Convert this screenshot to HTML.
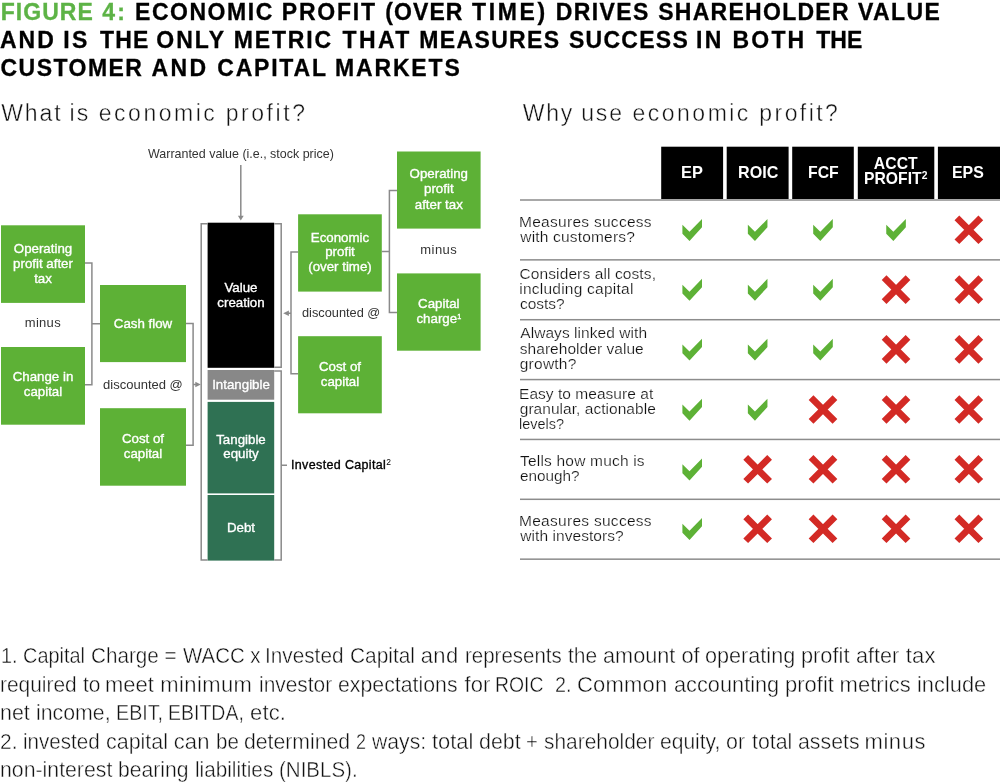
<!DOCTYPE html>
<html><head><meta charset="utf-8"><title>Figure 4</title>
<style>
html,body{margin:0;padding:0;background:#fff}
body{width:1000px;height:784px;position:relative;overflow:hidden;font-family:"Liberation Sans",sans-serif}
.t{position:absolute;white-space:pre;transform-origin:0 0;line-height:1;margin:0;padding:0}
.b{position:absolute}
svg{position:absolute;left:0;top:0}
#txt{position:absolute;left:0;top:0;width:1000px;height:784px;will-change:transform}
</style></head><body>
<svg width="1000" height="784" viewBox="0 0 1000 784">
<rect x="1.00" y="225.30" width="84.00" height="77.60" fill="#5db136"/>
<rect x="1.00" y="347.00" width="84.00" height="77.70" fill="#5db136"/>
<rect x="100.00" y="285.00" width="86.00" height="77.10" fill="#5db136"/>
<rect x="100.00" y="408.20" width="86.00" height="77.50" fill="#5db136"/>
<rect x="298.10" y="214.30" width="83.70" height="77.30" fill="#5db136"/>
<rect x="298.10" y="336.20" width="83.70" height="77.10" fill="#5db136"/>
<rect x="397.00" y="151.50" width="83.60" height="77.10" fill="#5db136"/>
<rect x="397.00" y="273.40" width="83.60" height="77.30" fill="#5db136"/>
<rect x="207.60" y="222.70" width="66.60" height="145.10" fill="#000"/>
<rect x="207.60" y="370.00" width="66.60" height="29.70" fill="#888888"/>
<rect x="207.60" y="401.90" width="66.60" height="91.50" fill="#2f7153"/>
<rect x="207.60" y="495.00" width="66.60" height="65.60" fill="#2f7153"/>
<path d="M85 263H91.9V384.8H85M91.9 323.8H100" fill="none" stroke="#8a8a8a" stroke-width="1.5"/>
<path d="M186 323.5H193.1V445.3H186M193.1 384.5H197" fill="none" stroke="#8a8a8a" stroke-width="1.5"/>
<path d="M298.1 252H291V373.8H298.1M291 313.2H287" fill="none" stroke="#8a8a8a" stroke-width="1.5"/>
<path d="M381.8 251.5H389.4M397 190.4H389.4V312.4H397" fill="none" stroke="#8a8a8a" stroke-width="1.5"/>
<path d="M240.8 165V217" fill="none" stroke="#8a8a8a" stroke-width="1.5"/>
<path d="M207.6 223.8H201.2V559.9H207.6" fill="none" stroke="#8a8a8a" stroke-width="1.5"/>
<path d="M274.2 223.8H281.2V367.2H274.2" fill="none" stroke="#8a8a8a" stroke-width="1.5"/>
<path d="M274.2 370.9H281.2V559.9H274.2M281.2 465.2H287" fill="none" stroke="#8a8a8a" stroke-width="1.5"/>
<polygon points="237.90,215.80 243.70,215.80 240.80,220.60" fill="#8a8a8a"/>
<polygon points="195.30,381.70 195.30,387.30 200.80,384.50" fill="#8a8a8a"/>
<polygon points="288.90,310.40 288.90,316.00 283.20,313.20" fill="#8a8a8a"/>
<rect x="661.20" y="146.70" width="61.90" height="52.30" fill="#000"/>
<rect x="726.70" y="146.70" width="61.90" height="52.30" fill="#000"/>
<rect x="792.20" y="146.70" width="61.60" height="52.30" fill="#000"/>
<rect x="857.80" y="146.70" width="76.50" height="52.30" fill="#000"/>
<rect x="937.90" y="146.70" width="62.10" height="52.30" fill="#000"/>
<rect x="520.00" y="199.25" width="480.00" height="1.50" fill="#8c8c8c"/>
<rect x="520.00" y="259.11" width="480.00" height="1.50" fill="#8c8c8c"/>
<rect x="520.00" y="318.97" width="480.00" height="1.50" fill="#8c8c8c"/>
<rect x="520.00" y="378.83" width="480.00" height="1.50" fill="#8c8c8c"/>
<rect x="520.00" y="438.69" width="480.00" height="1.50" fill="#8c8c8c"/>
<rect x="520.00" y="498.55" width="480.00" height="1.50" fill="#8c8c8c"/>
<rect x="520.00" y="558.41" width="480.00" height="1.50" fill="#8c8c8c"/>
<polygon points="682.40,224.85 689.50,231.85 702.00,219.05 702.00,227.35 689.50,240.95 682.40,233.65" fill="#5db136"/>
<polygon points="747.85,224.85 754.95,231.85 767.45,219.05 767.45,227.35 754.95,240.95 747.85,233.65" fill="#5db136"/>
<polygon points="813.20,224.85 820.30,231.85 832.80,219.05 832.80,227.35 820.30,240.95 813.20,233.65" fill="#5db136"/>
<polygon points="886.25,224.85 893.35,231.85 905.85,219.05 905.85,227.35 893.35,240.95 886.25,233.65" fill="#5db136"/>
<path d="M956.90 217.85L980.80 241.75M980.80 217.85L956.90 241.75" stroke="#d32a25" stroke-width="6.7" fill="none"/>
<polygon points="682.40,284.65 689.50,291.65 702.00,278.85 702.00,287.15 689.50,300.75 682.40,293.45" fill="#5db136"/>
<polygon points="747.85,284.65 754.95,291.65 767.45,278.85 767.45,287.15 754.95,300.75 747.85,293.45" fill="#5db136"/>
<polygon points="813.20,284.65 820.30,291.65 832.80,278.85 832.80,287.15 820.30,300.75 813.20,293.45" fill="#5db136"/>
<path d="M884.10 277.65L908.00 301.55M908.00 277.65L884.10 301.55" stroke="#d32a25" stroke-width="6.7" fill="none"/>
<path d="M956.90 277.65L980.80 301.55M980.80 277.65L956.90 301.55" stroke="#d32a25" stroke-width="6.7" fill="none"/>
<polygon points="682.40,344.45 689.50,351.45 702.00,338.65 702.00,346.95 689.50,360.55 682.40,353.25" fill="#5db136"/>
<polygon points="747.85,344.45 754.95,351.45 767.45,338.65 767.45,346.95 754.95,360.55 747.85,353.25" fill="#5db136"/>
<polygon points="813.20,344.45 820.30,351.45 832.80,338.65 832.80,346.95 820.30,360.55 813.20,353.25" fill="#5db136"/>
<path d="M884.10 337.45L908.00 361.35M908.00 337.45L884.10 361.35" stroke="#d32a25" stroke-width="6.7" fill="none"/>
<path d="M956.90 337.45L980.80 361.35M980.80 337.45L956.90 361.35" stroke="#d32a25" stroke-width="6.7" fill="none"/>
<polygon points="682.40,404.55 689.50,411.55 702.00,398.75 702.00,407.05 689.50,420.65 682.40,413.35" fill="#5db136"/>
<polygon points="747.85,404.55 754.95,411.55 767.45,398.75 767.45,407.05 754.95,420.65 747.85,413.35" fill="#5db136"/>
<path d="M811.05 397.55L834.95 421.45M834.95 397.55L811.05 421.45" stroke="#d32a25" stroke-width="6.7" fill="none"/>
<path d="M884.10 397.55L908.00 421.45M908.00 397.55L884.10 421.45" stroke="#d32a25" stroke-width="6.7" fill="none"/>
<path d="M956.90 397.55L980.80 421.45M980.80 397.55L956.90 421.45" stroke="#d32a25" stroke-width="6.7" fill="none"/>
<polygon points="682.40,464.35 689.50,471.35 702.00,458.55 702.00,466.85 689.50,480.45 682.40,473.15" fill="#5db136"/>
<path d="M745.70 457.35L769.60 481.25M769.60 457.35L745.70 481.25" stroke="#d32a25" stroke-width="6.7" fill="none"/>
<path d="M811.05 457.35L834.95 481.25M834.95 457.35L811.05 481.25" stroke="#d32a25" stroke-width="6.7" fill="none"/>
<path d="M884.10 457.35L908.00 481.25M908.00 457.35L884.10 481.25" stroke="#d32a25" stroke-width="6.7" fill="none"/>
<path d="M956.90 457.35L980.80 481.25M980.80 457.35L956.90 481.25" stroke="#d32a25" stroke-width="6.7" fill="none"/>
<polygon points="682.40,523.85 689.50,530.85 702.00,518.05 702.00,526.35 689.50,539.95 682.40,532.65" fill="#5db136"/>
<path d="M745.70 516.85L769.60 540.75M769.60 516.85L745.70 540.75" stroke="#d32a25" stroke-width="6.7" fill="none"/>
<path d="M811.05 516.85L834.95 540.75M834.95 516.85L811.05 540.75" stroke="#d32a25" stroke-width="6.7" fill="none"/>
<path d="M884.10 516.85L908.00 540.75M908.00 516.85L884.10 540.75" stroke="#d32a25" stroke-width="6.7" fill="none"/>
<path d="M956.90 516.85L980.80 540.75M980.80 516.85L956.90 540.75" stroke="#d32a25" stroke-width="6.7" fill="none"/>
</svg>
<div id="txt">
<div class="t ws" id="t0" style="font-size:23px;font-weight:700;color:#5db346;top:0.81px;-webkit-text-stroke:0.3px #5db346;letter-spacing:1.031px;left:0.75px;">FIGURE </div>
<div class="t ws" id="t1" style="font-size:23px;font-weight:700;color:#5db346;top:0.81px;-webkit-text-stroke:0.3px #5db346;letter-spacing:2.302px;left:102.25px;">4: </div>
<div class="t ws" id="t2" style="font-size:23px;font-weight:700;color:#000;top:0.81px;-webkit-text-stroke:0.3px #000;letter-spacing:1.540px;left:135.00px;">ECONOMIC </div>
<div class="t ws" id="t3" style="font-size:23px;font-weight:700;color:#000;top:0.81px;-webkit-text-stroke:0.3px #000;letter-spacing:1.788px;left:281.75px;">PROFIT </div>
<div class="t ws" id="t4" style="font-size:23px;font-weight:700;color:#000;top:0.81px;-webkit-text-stroke:0.3px #000;letter-spacing:1.086px;left:385.25px;">(OVER </div>
<div class="t ws" id="t5" style="font-size:23px;font-weight:700;color:#000;top:0.81px;-webkit-text-stroke:0.3px #000;letter-spacing:2.667px;left:472.00px;">TIME) </div>
<div class="t ws" id="t6" style="font-size:23px;font-weight:700;color:#000;top:0.81px;-webkit-text-stroke:0.3px #000;letter-spacing:1.388px;left:555.75px;">DRIVES </div>
<div class="t ws" id="t7" style="font-size:23px;font-weight:700;color:#000;top:0.81px;-webkit-text-stroke:0.3px #000;letter-spacing:1.270px;left:658.25px;">SHAREHOLDER </div>
<div class="t ws" id="t8" style="font-size:23px;font-weight:700;color:#000;top:0.81px;-webkit-text-stroke:0.3px #000;letter-spacing:1.375px;left:858.00px;">VALUE</div>
<div class="t ws" id="t9" style="font-size:23px;font-weight:700;color:#000;top:28.71px;-webkit-text-stroke:0.3px #000;letter-spacing:2.016px;left:-0.10px;">AND </div>
<div class="t ws" id="t10" style="font-size:23px;font-weight:700;color:#000;top:28.71px;-webkit-text-stroke:0.3px #000;letter-spacing:2.458px;left:63.25px;">IS </div>
<div class="t ws" id="t11" style="font-size:23px;font-weight:700;color:#000;top:28.71px;-webkit-text-stroke:0.3px #000;letter-spacing:1.152px;left:100.00px;">THE </div>
<div class="t ws" id="t12" style="font-size:23px;font-weight:700;color:#000;top:28.71px;-webkit-text-stroke:0.3px #000;letter-spacing:2.047px;left:156.25px;">ONLY </div>
<div class="t ws" id="t13" style="font-size:23px;font-weight:700;color:#000;top:28.71px;-webkit-text-stroke:0.3px #000;letter-spacing:1.848px;left:233.75px;">METRIC </div>
<div class="t ws" id="t14" style="font-size:23px;font-weight:700;color:#000;top:28.71px;-webkit-text-stroke:0.3px #000;letter-spacing:2.397px;left:342.50px;">THAT </div>
<div class="t ws" id="t15" style="font-size:23px;font-weight:700;color:#000;top:28.71px;-webkit-text-stroke:0.3px #000;letter-spacing:1.361px;left:419.25px;">MEASURES </div>
<div class="t ws" id="t16" style="font-size:23px;font-weight:700;color:#000;top:28.71px;-webkit-text-stroke:0.3px #000;letter-spacing:1.263px;left:569.00px;">SUCCESS </div>
<div class="t ws" id="t17" style="font-size:23px;font-weight:700;color:#000;top:28.71px;-webkit-text-stroke:0.3px #000;letter-spacing:2.386px;left:695.90px;">IN </div>
<div class="t ws" id="t18" style="font-size:23px;font-weight:700;color:#000;top:28.71px;-webkit-text-stroke:0.3px #000;letter-spacing:2.188px;left:732.50px;">BOTH </div>
<div class="t ws" id="t19" style="font-size:23px;font-weight:700;color:#000;top:28.71px;-webkit-text-stroke:0.3px #000;letter-spacing:0.000px;left:816.25px;">THE</div>
<div class="t ws" id="t20" style="font-size:23px;font-weight:700;color:#000;top:56.71px;-webkit-text-stroke:0.3px #000;letter-spacing:1.462px;left:0.50px;">CUSTOMER </div>
<div class="t ws" id="t21" style="font-size:23px;font-weight:700;color:#000;top:56.71px;-webkit-text-stroke:0.3px #000;letter-spacing:2.441px;left:151.50px;">AND </div>
<div class="t ws" id="t22" style="font-size:23px;font-weight:700;color:#000;top:56.71px;-webkit-text-stroke:0.3px #000;letter-spacing:1.789px;left:217.25px;">CAPITAL </div>
<div class="t ws" id="t23" style="font-size:23px;font-weight:700;color:#000;top:56.71px;-webkit-text-stroke:0.3px #000;letter-spacing:1.833px;left:335.00px;">MARKETS</div>
<div class="t" id="t24" style="font-size:23px;font-weight:400;color:#111;top:101.71px;-webkit-text-stroke:0.4px #fff;letter-spacing:1.904px;left:1.20px;">What </div>
<div class="t" id="t25" style="font-size:23px;font-weight:400;color:#111;top:101.71px;-webkit-text-stroke:0.4px #fff;letter-spacing:1.933px;left:69.60px;">is </div>
<div class="t" id="t26" style="font-size:23px;font-weight:400;color:#111;top:101.71px;-webkit-text-stroke:0.4px #fff;letter-spacing:2.519px;left:98.75px;">economic </div>
<div class="t" id="t27" style="font-size:23px;font-weight:400;color:#111;top:101.71px;-webkit-text-stroke:0.4px #fff;letter-spacing:2.542px;left:225.75px;">profit?</div>
<div class="t" id="t28" style="font-size:23px;font-weight:400;color:#111;top:101.71px;-webkit-text-stroke:0.4px #fff;letter-spacing:1.765px;left:522.75px;">Why </div>
<div class="t" id="t29" style="font-size:23px;font-weight:400;color:#111;top:101.71px;-webkit-text-stroke:0.4px #fff;letter-spacing:1.904px;left:581.15px;">use </div>
<div class="t" id="t30" style="font-size:23px;font-weight:400;color:#111;top:101.71px;-webkit-text-stroke:0.4px #fff;letter-spacing:2.475px;left:632.60px;">economic </div>
<div class="t" id="t31" style="font-size:23px;font-weight:400;color:#111;top:101.71px;-webkit-text-stroke:0.4px #fff;letter-spacing:2.442px;left:759.30px;">profit?</div>
<div class="t" id="t32" style="font-size:13px;font-weight:400;color:#333;top:147.00px;letter-spacing:0.000px;left:148.00px;transform:scaleX(0.9585);">Warranted value (i.e., stock price)</div>
<div class="t" id="t33" style="font-size:13px;font-weight:400;color:#333;top:316.41px;letter-spacing:0.300px;left:24.75px;">minus</div>
<div class="t" id="t34" style="font-size:13px;font-weight:400;color:#333;top:378.30px;letter-spacing:0.000px;left:103.10px;">discounted @</div>
<div class="t" id="t35" style="font-size:13px;font-weight:400;color:#333;top:306.41px;letter-spacing:0.000px;left:302.30px;transform:scaleX(0.9827);">discounted @</div>
<div class="t" id="t36" style="font-size:13px;font-weight:400;color:#333;top:243.00px;letter-spacing:0.487px;left:420.20px;">minus</div>
<div class="t ws" id="t37" style="font-size:12.5px;font-weight:400;color:#000;top:459.01px;-webkit-text-stroke:0.35px #000;letter-spacing:0.350px;left:291.00px;">Invested Capital<span style="font-size:8.5px;position:relative;top:-3.8px;-webkit-text-stroke:0;letter-spacing:0">2</span></div>
<div class="t ws" id="t38" style="font-size:13.3px;font-weight:400;color:#fff;top:241.72px;-webkit-text-stroke:0.35px #fff;left:43.00px;transform:translateX(-50%);">Operating</div>
<div class="t ws" id="t39" style="font-size:13.3px;font-weight:400;color:#fff;top:256.72px;-webkit-text-stroke:0.35px #fff;left:43.00px;transform:translateX(-50%);">profit after</div>
<div class="t ws" id="t40" style="font-size:13.3px;font-weight:400;color:#fff;top:271.72px;-webkit-text-stroke:0.35px #fff;left:43.00px;transform:translateX(-50%);">tax</div>
<div class="t ws" id="t41" style="font-size:13.3px;font-weight:400;color:#fff;top:370.01px;-webkit-text-stroke:0.35px #fff;left:43.00px;transform:translateX(-50%);">Change in</div>
<div class="t ws" id="t42" style="font-size:13.3px;font-weight:400;color:#fff;top:385.01px;-webkit-text-stroke:0.35px #fff;left:43.00px;transform:translateX(-50%);">capital</div>
<div class="t ws" id="t43" style="font-size:13.3px;font-weight:400;color:#fff;top:316.72px;-webkit-text-stroke:0.35px #fff;left:143.00px;transform:translateX(-50%);">Cash flow</div>
<div class="t ws" id="t44" style="font-size:13.3px;font-weight:400;color:#fff;top:432.01px;-webkit-text-stroke:0.35px #fff;left:143.00px;transform:translateX(-50%);">Cost of</div>
<div class="t ws" id="t45" style="font-size:13.3px;font-weight:400;color:#fff;top:447.01px;-webkit-text-stroke:0.35px #fff;left:143.00px;transform:translateX(-50%);">capital</div>
<div class="t ws" id="t46" style="font-size:13.3px;font-weight:400;color:#fff;top:230.51px;-webkit-text-stroke:0.35px #fff;left:340.00px;transform:translateX(-50%);">Economic</div>
<div class="t ws" id="t47" style="font-size:13.3px;font-weight:400;color:#fff;top:245.22px;-webkit-text-stroke:0.35px #fff;left:340.00px;transform:translateX(-50%);">profit</div>
<div class="t ws" id="t48" style="font-size:13.3px;font-weight:400;color:#fff;top:260.01px;-webkit-text-stroke:0.35px #fff;left:340.00px;transform:translateX(-50%);">(over time)</div>
<div class="t ws" id="t49" style="font-size:13.3px;font-weight:400;color:#fff;top:359.60px;-webkit-text-stroke:0.35px #fff;left:340.00px;transform:translateX(-50%);">Cost of</div>
<div class="t ws" id="t50" style="font-size:13.3px;font-weight:400;color:#fff;top:374.72px;-webkit-text-stroke:0.35px #fff;left:340.00px;transform:translateX(-50%);">capital</div>
<div class="t ws" id="t51" style="font-size:13.3px;font-weight:400;color:#fff;top:167.31px;-webkit-text-stroke:0.35px #fff;left:438.80px;transform:translateX(-50%);">Operating</div>
<div class="t ws" id="t52" style="font-size:13.3px;font-weight:400;color:#fff;top:182.41px;-webkit-text-stroke:0.35px #fff;left:438.80px;transform:translateX(-50%);">profit</div>
<div class="t ws" id="t53" style="font-size:13.3px;font-weight:400;color:#fff;top:197.72px;-webkit-text-stroke:0.35px #fff;left:438.80px;transform:translateX(-50%);">after tax</div>
<div class="t ws" id="t54" style="font-size:13.3px;font-weight:400;color:#fff;top:297.31px;-webkit-text-stroke:0.35px #fff;left:438.80px;transform:translateX(-50%);">Capital</div>
<div class="t ws" id="t55" style="font-size:13.3px;font-weight:400;color:#fff;top:312.41px;-webkit-text-stroke:0.35px #fff;left:438.80px;transform:translateX(-50%);">charge<span style="font-size:7.2px;position:relative;top:-4.6px">1</span></div>
<div class="t ws" id="t56" style="font-size:13.3px;font-weight:400;color:#fff;top:281.31px;-webkit-text-stroke:0.35px #fff;left:241.00px;transform:translateX(-50%);">Value</div>
<div class="t ws" id="t57" style="font-size:13.3px;font-weight:400;color:#fff;top:296.31px;-webkit-text-stroke:0.35px #fff;left:241.00px;transform:translateX(-50%);">creation</div>
<div class="t ws" id="t58" style="font-size:13.3px;font-weight:400;color:#fff;top:377.51px;-webkit-text-stroke:0.35px #fff;left:241.00px;transform:translateX(-50%);">Intangible</div>
<div class="t ws" id="t59" style="font-size:13.3px;font-weight:400;color:#fff;top:432.60px;-webkit-text-stroke:0.35px #fff;left:241.00px;transform:translateX(-50%);">Tangible</div>
<div class="t ws" id="t60" style="font-size:13.3px;font-weight:400;color:#fff;top:447.31px;-webkit-text-stroke:0.35px #fff;left:241.00px;transform:translateX(-50%);">equity</div>
<div class="t ws" id="t61" style="font-size:13.3px;font-weight:400;color:#fff;top:520.72px;-webkit-text-stroke:0.35px #fff;left:241.00px;transform:translateX(-50%);">Debt</div>
<div class="t" id="t62" style="font-size:17px;font-weight:700;color:#fff;top:164.21px;letter-spacing:0.000px;left:681.00px;transform:scaleX(0.9619);">EP</div>
<div class="t" id="t63" style="font-size:17px;font-weight:700;color:#fff;top:164.21px;letter-spacing:0.000px;left:737.50px;transform:scaleX(0.9473);">ROIC</div>
<div class="t" id="t64" style="font-size:17px;font-weight:700;color:#fff;top:164.21px;letter-spacing:0.000px;left:807.50px;transform:scaleX(0.9286);">FCF</div>
<div class="t" id="t65" style="font-size:15.7px;font-weight:700;color:#fff;top:155.91px;letter-spacing:0.067px;left:873.85px;">ACCT</div>
<div class="t" id="t66" style="font-size:15.7px;font-weight:700;color:#fff;top:170.72px;letter-spacing:0.033px;left:864.00px;">PROFIT<span style="font-size:10.3px;position:relative;top:-5px;letter-spacing:0">2</span></div>
<div class="t" id="t67" style="font-size:17px;font-weight:700;color:#fff;top:164.21px;letter-spacing:0.000px;left:952.00px;transform:scaleX(0.9355);">EPS</div>
<div class="t" id="t68" style="font-size:15.5px;font-weight:400;color:#111;top:213.60px;-webkit-text-stroke:0.22px #fff;letter-spacing:0.283px;left:519.00px;">Measures success</div>
<div class="t" id="t69" style="font-size:15.5px;font-weight:400;color:#111;top:228.81px;-webkit-text-stroke:0.22px #fff;letter-spacing:0.186px;left:520.25px;">with customers?</div>
<div class="t" id="t70" style="font-size:15.5px;font-weight:400;color:#111;top:265.75px;-webkit-text-stroke:0.22px #fff;letter-spacing:0.108px;left:519.50px;">Considers all costs,</div>
<div class="t" id="t71" style="font-size:15.5px;font-weight:400;color:#111;top:280.91px;-webkit-text-stroke:0.22px #fff;letter-spacing:0.237px;left:519.25px;">including capital</div>
<div class="t" id="t72" style="font-size:15.5px;font-weight:400;color:#111;top:295.75px;-webkit-text-stroke:0.22px #fff;letter-spacing:0.000px;left:519.62px;transform:scaleX(0.9965);">costs?</div>
<div class="t" id="t73" style="font-size:15.5px;font-weight:400;color:#111;top:325.21px;-webkit-text-stroke:0.22px #fff;letter-spacing:0.059px;left:520.25px;">Always linked with</div>
<div class="t" id="t74" style="font-size:15.5px;font-weight:400;color:#111;top:340.91px;-webkit-text-stroke:0.22px #fff;letter-spacing:0.047px;left:519.75px;">shareholder value</div>
<div class="t" id="t75" style="font-size:15.5px;font-weight:400;color:#111;top:355.60px;-webkit-text-stroke:0.22px #fff;letter-spacing:0.242px;left:519.75px;">growth?</div>
<div class="t" id="t76" style="font-size:15.5px;font-weight:400;color:#111;top:385.60px;-webkit-text-stroke:0.22px #fff;letter-spacing:0.038px;left:519.00px;">Easy to measure at</div>
<div class="t" id="t77" style="font-size:15.5px;font-weight:400;color:#111;top:400.75px;-webkit-text-stroke:0.22px #fff;letter-spacing:0.039px;left:519.75px;">granular, actionable</div>
<div class="t" id="t78" style="font-size:15.5px;font-weight:400;color:#111;top:415.75px;-webkit-text-stroke:0.22px #fff;letter-spacing:0.000px;left:519.00px;transform:scaleX(0.9319);">levels?</div>
<div class="t" id="t79" style="font-size:15.5px;font-weight:400;color:#111;top:453.25px;-webkit-text-stroke:0.22px #fff;letter-spacing:0.197px;left:520.00px;">Tells how much is</div>
<div class="t" id="t80" style="font-size:15.5px;font-weight:400;color:#111;top:468.41px;-webkit-text-stroke:0.22px #fff;letter-spacing:0.000px;left:519.62px;transform:scaleX(0.9873);">enough?</div>
<div class="t" id="t81" style="font-size:15.5px;font-weight:400;color:#111;top:513.00px;-webkit-text-stroke:0.22px #fff;letter-spacing:0.283px;left:519.00px;">Measures success</div>
<div class="t" id="t82" style="font-size:15.5px;font-weight:400;color:#111;top:528.25px;-webkit-text-stroke:0.22px #fff;letter-spacing:0.064px;left:520.25px;">with investors?</div>
<div class="t" id="t83" style="font-size:22px;font-weight:400;color:#111;top:645.00px;-webkit-text-stroke:0.42px #fff;letter-spacing:0.000px;left:1.25px;transform:scaleX(0.9035);">1. Capital </div>
<div class="t" id="t84" style="font-size:22px;font-weight:400;color:#111;top:645.00px;-webkit-text-stroke:0.42px #fff;letter-spacing:0.000px;left:90.75px;transform:scaleX(0.9385);">Charge = </div>
<div class="t" id="t85" style="font-size:22px;font-weight:400;color:#111;top:645.00px;-webkit-text-stroke:0.42px #fff;letter-spacing:0.000px;left:183.00px;transform:scaleX(0.9289);">WACC x </div>
<div class="t" id="t86" style="font-size:22px;font-weight:400;color:#111;top:645.00px;-webkit-text-stroke:0.42px #fff;letter-spacing:0.000px;left:265.00px;transform:scaleX(0.9436);">Invested </div>
<div class="t" id="t87" style="font-size:22px;font-weight:400;color:#111;top:645.00px;-webkit-text-stroke:0.42px #fff;letter-spacing:0.000px;left:350.25px;transform:scaleX(0.9485);">Capital </div>
<div class="t" id="t88" style="font-size:22px;font-weight:400;color:#111;top:645.00px;-webkit-text-stroke:0.42px #fff;letter-spacing:0.355px;left:420.75px;">and </div>
<div class="t" id="t89" style="font-size:22px;font-weight:400;color:#111;top:645.00px;-webkit-text-stroke:0.42px #fff;letter-spacing:0.000px;left:465.00px;transform:scaleX(0.9313);">represents </div>
<div class="t" id="t90" style="font-size:22px;font-weight:400;color:#111;top:645.00px;-webkit-text-stroke:0.42px #fff;letter-spacing:0.000px;left:568.00px;transform:scaleX(0.9536);">the </div>
<div class="t" id="t91" style="font-size:22px;font-weight:400;color:#111;top:645.00px;-webkit-text-stroke:0.42px #fff;letter-spacing:0.000px;left:602.50px;transform:scaleX(0.9860);">amount of </div>
<div class="t" id="t92" style="font-size:22px;font-weight:400;color:#111;top:645.00px;-webkit-text-stroke:0.42px #fff;letter-spacing:0.000px;left:705.12px;transform:scaleX(0.9836);">operating </div>
<div class="t" id="t93" style="font-size:22px;font-weight:400;color:#111;top:645.00px;-webkit-text-stroke:0.42px #fff;letter-spacing:0.000px;left:800.62px;transform:scaleX(0.9903);">profit </div>
<div class="t" id="t94" style="font-size:22px;font-weight:400;color:#111;top:645.00px;-webkit-text-stroke:0.42px #fff;letter-spacing:0.000px;left:856.00px;transform:scaleX(0.9822);">after </div>
<div class="t" id="t95" style="font-size:22px;font-weight:400;color:#111;top:645.00px;-webkit-text-stroke:0.42px #fff;letter-spacing:0.250px;left:905.75px;">tax</div>
<div class="t" id="t96" style="font-size:22px;font-weight:400;color:#111;top:674.00px;-webkit-text-stroke:0.42px #fff;letter-spacing:0.000px;left:0.00px;transform:scaleX(0.9500);">required </div>
<div class="t" id="t97" style="font-size:22px;font-weight:400;color:#111;top:674.00px;-webkit-text-stroke:0.42px #fff;letter-spacing:0.000px;left:83.00px;transform:scaleX(0.9502);">to </div>
<div class="t" id="t98" style="font-size:22px;font-weight:400;color:#111;top:674.00px;-webkit-text-stroke:0.42px #fff;letter-spacing:0.000px;left:105.25px;transform:scaleX(0.9994);">meet </div>
<div class="t" id="t99" style="font-size:22px;font-weight:400;color:#111;top:674.00px;-webkit-text-stroke:0.42px #fff;letter-spacing:0.395px;left:160.25px;">minimum </div>
<div class="t" id="t100" style="font-size:22px;font-weight:400;color:#111;top:674.00px;-webkit-text-stroke:0.42px #fff;letter-spacing:0.000px;left:258.50px;transform:scaleX(0.9500);">investor </div>
<div class="t" id="t101" style="font-size:22px;font-weight:400;color:#111;top:674.00px;-webkit-text-stroke:0.42px #fff;letter-spacing:0.000px;left:338.00px;transform:scaleX(0.9681);">expectations </div>
<div class="t" id="t102" style="font-size:22px;font-weight:400;color:#111;top:674.00px;-webkit-text-stroke:0.42px #fff;letter-spacing:0.051px;left:464.50px;">for </div>
<div class="t" id="t103" style="font-size:22px;font-weight:400;color:#111;top:674.00px;-webkit-text-stroke:0.42px #fff;letter-spacing:0.000px;left:495.25px;transform:scaleX(0.8812);">ROIC  </div>
<div class="t" id="t104" style="font-size:22px;font-weight:400;color:#111;top:674.00px;-webkit-text-stroke:0.42px #fff;letter-spacing:0.000px;left:555.25px;transform:scaleX(0.8991);">2. </div>
<div class="t" id="t105" style="font-size:22px;font-weight:400;color:#111;top:674.00px;-webkit-text-stroke:0.42px #fff;letter-spacing:0.199px;left:577.00px;">Common </div>
<div class="t" id="t106" style="font-size:22px;font-weight:400;color:#111;top:674.00px;-webkit-text-stroke:0.42px #fff;letter-spacing:0.000px;left:674.00px;transform:scaleX(0.9886);">accounting </div>
<div class="t" id="t107" style="font-size:22px;font-weight:400;color:#111;top:674.00px;-webkit-text-stroke:0.42px #fff;letter-spacing:0.000px;left:784.75px;transform:scaleX(0.9994);">profit </div>
<div class="t" id="t108" style="font-size:22px;font-weight:400;color:#111;top:674.00px;-webkit-text-stroke:0.42px #fff;letter-spacing:0.062px;left:839.50px;">metrics </div>
<div class="t" id="t109" style="font-size:22px;font-weight:400;color:#111;top:674.00px;-webkit-text-stroke:0.42px #fff;letter-spacing:0.000px;left:916.75px;transform:scaleX(0.9925);">include</div>
<div class="t" id="t110" style="font-size:22px;font-weight:400;color:#111;top:702.00px;-webkit-text-stroke:0.42px #fff;letter-spacing:0.000px;left:-0.25px;transform:scaleX(0.9740);">net </div>
<div class="t" id="t111" style="font-size:22px;font-weight:400;color:#111;top:702.00px;-webkit-text-stroke:0.42px #fff;letter-spacing:0.000px;left:35.50px;transform:scaleX(0.9681);">income, </div>
<div class="t" id="t112" style="font-size:22px;font-weight:400;color:#111;top:702.00px;-webkit-text-stroke:0.42px #fff;letter-spacing:0.000px;left:115.62px;transform:scaleX(0.8946);">EBIT, </div>
<div class="t" id="t113" style="font-size:22px;font-weight:400;color:#111;top:702.00px;-webkit-text-stroke:0.42px #fff;letter-spacing:0.000px;left:168.25px;transform:scaleX(0.8862);">EBITDA, </div>
<div class="t" id="t114" style="font-size:22px;font-weight:400;color:#111;top:702.00px;-webkit-text-stroke:0.42px #fff;letter-spacing:0.167px;left:250.00px;">etc.</div>
<div class="t" id="t115" style="font-size:22px;font-weight:400;color:#111;top:731.00px;-webkit-text-stroke:0.42px #fff;letter-spacing:0.000px;left:0.25px;transform:scaleX(0.9502);">2. </div>
<div class="t" id="t116" style="font-size:22px;font-weight:400;color:#111;top:731.00px;-webkit-text-stroke:0.42px #fff;letter-spacing:0.000px;left:22.50px;transform:scaleX(0.9368);">invested </div>
<div class="t" id="t117" style="font-size:22px;font-weight:400;color:#111;top:731.00px;-webkit-text-stroke:0.42px #fff;letter-spacing:0.000px;left:106.00px;transform:scaleX(0.9753);">capital </div>
<div class="t" id="t118" style="font-size:22px;font-weight:400;color:#111;top:731.00px;-webkit-text-stroke:0.42px #fff;letter-spacing:0.102px;left:173.75px;">can </div>
<div class="t" id="t119" style="font-size:22px;font-weight:400;color:#111;top:731.00px;-webkit-text-stroke:0.42px #fff;letter-spacing:0.000px;left:215.50px;transform:scaleX(0.9316);">be </div>
<div class="t" id="t120" style="font-size:22px;font-weight:400;color:#111;top:731.00px;-webkit-text-stroke:0.42px #fff;letter-spacing:0.000px;left:244.00px;transform:scaleX(0.9640);">determined </div>
<div class="t" id="t121" style="font-size:22px;font-weight:400;color:#111;top:731.00px;-webkit-text-stroke:0.42px #fff;letter-spacing:0.000px;left:356.00px;transform:scaleX(0.8170);">2 </div>
<div class="t" id="t122" style="font-size:22px;font-weight:400;color:#111;top:731.00px;-webkit-text-stroke:0.42px #fff;letter-spacing:0.000px;left:371.75px;transform:scaleX(0.9622);">ways: </div>
<div class="t" id="t123" style="font-size:22px;font-weight:400;color:#111;top:731.00px;-webkit-text-stroke:0.42px #fff;letter-spacing:0.000px;left:431.50px;transform:scaleX(0.9957);">total </div>
<div class="t" id="t124" style="font-size:22px;font-weight:400;color:#111;top:731.00px;-webkit-text-stroke:0.42px #fff;letter-spacing:0.000px;left:479.00px;transform:scaleX(0.9706);">debt </div>
<div class="t" id="t125" style="font-size:22px;font-weight:400;color:#111;top:731.00px;-webkit-text-stroke:0.42px #fff;letter-spacing:0.000px;left:525.75px;transform:scaleX(0.9226);">+ </div>
<div class="t" id="t126" style="font-size:22px;font-weight:400;color:#111;top:731.00px;-webkit-text-stroke:0.42px #fff;letter-spacing:0.000px;left:544.00px;transform:scaleX(0.9504);">shareholder </div>
<div class="t" id="t127" style="font-size:22px;font-weight:400;color:#111;top:731.00px;-webkit-text-stroke:0.42px #fff;letter-spacing:0.000px;left:660.12px;transform:scaleX(0.9558);">equity, </div>
<div class="t" id="t128" style="font-size:22px;font-weight:400;color:#111;top:731.00px;-webkit-text-stroke:0.42px #fff;letter-spacing:0.000px;left:726.00px;transform:scaleX(0.9732);">or </div>
<div class="t" id="t129" style="font-size:22px;font-weight:400;color:#111;top:731.00px;-webkit-text-stroke:0.42px #fff;letter-spacing:0.000px;left:751.50px;transform:scaleX(0.9695);">total </div>
<div class="t" id="t130" style="font-size:22px;font-weight:400;color:#111;top:731.00px;-webkit-text-stroke:0.42px #fff;letter-spacing:0.000px;left:797.50px;transform:scaleX(0.9684);">assets </div>
<div class="t" id="t131" style="font-size:22px;font-weight:400;color:#111;top:731.00px;-webkit-text-stroke:0.42px #fff;letter-spacing:0.562px;left:864.50px;">minus</div>
<div class="t" id="t132" style="font-size:22px;font-weight:400;color:#111;top:759.00px;-webkit-text-stroke:0.42px #fff;letter-spacing:0.000px;left:-0.25px;transform:scaleX(0.9669);">non-interest </div>
<div class="t" id="t133" style="font-size:22px;font-weight:400;color:#111;top:759.00px;-webkit-text-stroke:0.42px #fff;letter-spacing:0.000px;left:117.50px;transform:scaleX(0.9621);">bearing </div>
<div class="t" id="t134" style="font-size:22px;font-weight:400;color:#111;top:759.00px;-webkit-text-stroke:0.42px #fff;letter-spacing:0.000px;left:194.50px;transform:scaleX(0.9410);">liabilities </div>
<div class="t" id="t135" style="font-size:22px;font-weight:400;color:#111;top:759.00px;-webkit-text-stroke:0.42px #fff;letter-spacing:0.000px;left:278.50px;transform:scaleX(0.9319);">(NIBLS).</div>
</div>
</body></html>
